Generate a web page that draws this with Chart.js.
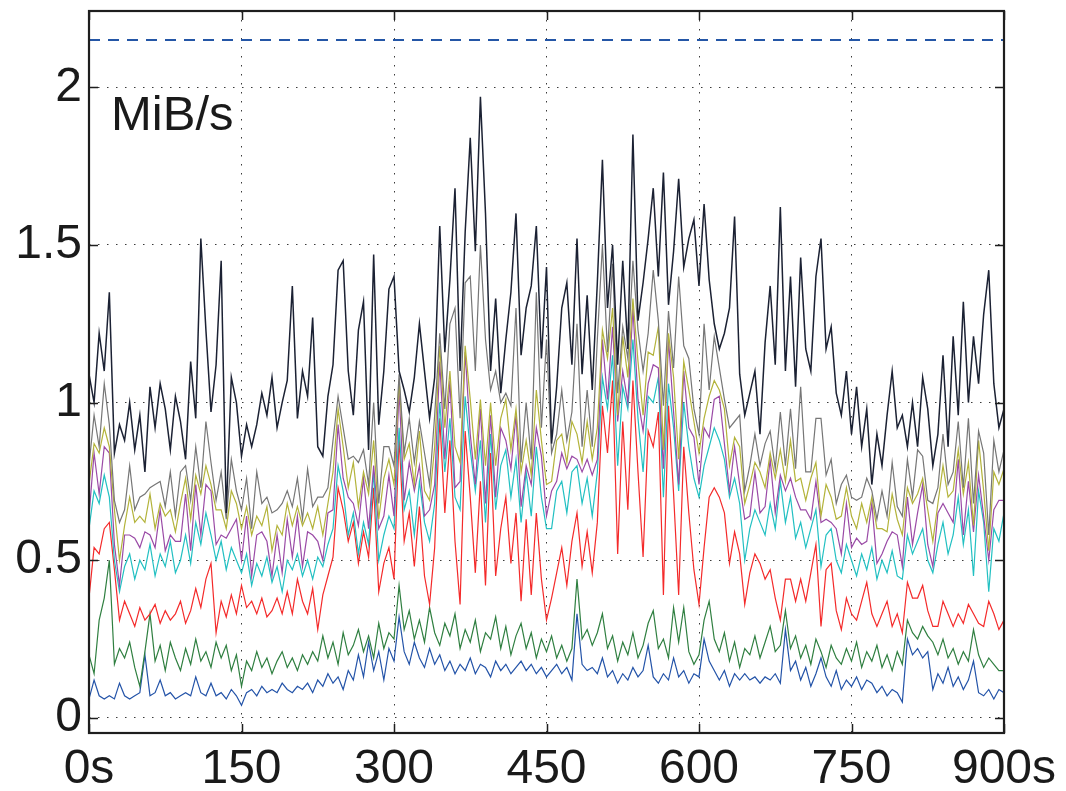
<!DOCTYPE html>
<html>
<head>
<meta charset="utf-8">
<script src="https://cdn.jsdelivr.net/npm/chart.js@4/dist/chart.umd.min.js"></script>
<style>
  html, body { margin: 0; padding: 0; background: #fff; }
  #wrap { width: 1066px; height: 791px; }
</style>
</head>
<body>
<div id="wrap"><canvas id="chart1" width="1066" height="791"></canvas></div>
<script>
"use strict";

// sample times, one every 5 s from 0 to 900 s
var times = [];
for (var t = 0; t <= 900; t += 5) times.push(t);

var xTicks = [0, 150, 300, 450, 600, 750, 900];
var xTickLabels = ['0s', '150', '300', '450', '600', '750', '900s'];
var yTicks = [0, 0.5, 1, 1.5, 2];
var yTickLabels = ['0', '0.5', '1', '1.5', '2'];
var unitLabel = 'MiB/s';
var limitValue = 2.15;

var navy = [
  1.09, 1.00, 1.22, 1.10, 1.35, 0.84, 0.93, 0.88, 1.00, 0.85,
  0.96, 0.78, 1.05, 0.92, 1.06, 0.98, 0.85, 1.02, 0.94, 0.82,
  1.13, 0.95, 1.52, 1.23, 0.97, 1.12, 1.45, 0.65, 1.08, 1.00,
  0.83, 0.93, 0.86, 0.93, 1.03, 0.96, 1.08, 0.92, 1.00, 1.07,
  1.37, 0.95, 1.10, 1.02, 1.27, 0.86, 0.83, 1.02, 1.12, 1.42,
  1.45, 1.10, 0.96, 1.23, 1.32, 0.85, 1.47, 0.93, 1.10, 1.36,
  1.40, 1.10, 1.04, 0.97, 1.08, 1.25, 1.10, 0.95, 1.08, 1.56,
  1.16, 1.39, 1.68, 1.10, 1.54, 1.84, 1.48, 1.97, 1.60, 1.10,
  1.33, 1.03, 1.20, 1.35, 1.60, 1.15, 1.30, 1.37, 1.56, 1.14,
  1.43, 0.87, 1.05, 1.30, 1.38, 1.12, 1.52, 1.09, 1.34, 1.04,
  1.38, 1.77, 1.30, 1.50, 1.12, 1.45, 1.17, 1.85, 1.26, 1.38,
  1.52, 1.68, 1.40, 1.73, 1.31, 1.48, 1.71, 1.43, 1.52, 1.58,
  1.37, 1.63, 1.39, 1.25, 1.17, 1.22, 1.30, 1.59, 1.09, 0.96,
  1.03, 1.10, 0.90, 1.19, 1.37, 1.12, 1.62, 1.10, 1.40, 1.05,
  1.46, 1.17, 1.10, 1.40, 1.52, 1.17, 1.24, 1.03, 0.96, 1.10,
  0.90, 1.05, 0.86, 0.98, 0.74, 0.90, 0.80, 0.96, 1.10, 0.92,
  0.96, 0.86, 1.00, 0.86, 1.08, 0.98, 0.80, 0.90, 1.15, 0.86,
  1.21, 0.96, 1.32, 1.00, 1.21, 1.06, 1.28, 1.42, 1.06, 0.92,
  0.98
];

var gray = [
  0.80, 0.96, 0.86, 1.06, 0.93, 0.69, 0.62, 0.66, 0.80, 0.66,
  0.70, 0.71, 0.73, 0.74, 0.75, 0.67, 0.78, 0.64, 0.78, 0.80,
  0.69, 0.86, 0.73, 0.94, 0.81, 0.69, 0.78, 0.63, 0.82, 0.72,
  0.66, 0.76, 0.60, 0.78, 0.68, 0.70, 0.65, 0.66, 0.68, 0.72,
  0.67, 0.76, 0.63, 0.79, 0.67, 0.70, 0.70, 0.73, 0.88, 1.02,
  0.92, 0.82, 0.83, 0.81, 0.85, 0.74, 1.00, 0.68, 0.86, 0.86,
  0.80, 1.09, 0.84, 0.95, 0.81, 0.94, 0.84, 0.74, 0.96, 1.22,
  0.98, 1.25, 1.30, 0.95, 1.38, 1.40, 1.10, 1.50, 1.20, 1.04,
  1.10, 1.00, 1.03, 0.99, 1.30, 0.81, 1.00, 0.82, 1.35, 0.92,
  1.20, 0.84, 0.90, 1.04, 0.88, 0.97, 1.25, 0.86, 1.04, 0.86,
  1.20, 1.50, 1.16, 1.44, 1.03, 1.24, 1.14, 1.45, 1.23, 1.10,
  1.22, 1.42, 1.26, 0.99, 1.29, 1.11, 1.40, 1.18, 1.14, 0.98,
  0.90, 1.25, 1.04, 1.21, 1.11, 1.01, 0.92, 0.94, 0.96, 0.72,
  0.80, 0.90, 0.80, 0.87, 0.91, 0.79, 0.97, 0.80, 0.98, 0.79,
  1.05, 0.78, 0.78, 0.95, 0.95, 0.77, 0.82, 0.68, 0.74, 0.77,
  0.70, 0.69, 0.70, 0.76, 0.72, 0.63, 0.72, 0.64, 0.81, 0.67,
  0.64, 0.82, 0.70, 0.85, 0.83, 0.69, 0.68, 0.73, 0.90, 0.74,
  0.78, 0.94, 0.73, 0.95, 0.68, 0.91, 0.84, 0.58, 0.88, 0.78,
  0.85
];

var olive = [
  0.74, 0.87, 0.84, 0.92, 0.86, 0.66, 0.50, 0.61, 0.70, 0.62,
  0.64, 0.62, 0.71, 0.60, 0.68, 0.64, 0.66, 0.59, 0.68, 0.76,
  0.63, 0.77, 0.71, 0.80, 0.74, 0.66, 0.66, 0.60, 0.72, 0.68,
  0.60, 0.67, 0.58, 0.64, 0.61, 0.67, 0.53, 0.61, 0.58, 0.68,
  0.61, 0.67, 0.61, 0.65, 0.60, 0.67, 0.58, 0.68, 0.78, 0.98,
  0.86, 0.73, 0.81, 0.67, 0.78, 0.71, 0.88, 0.63, 0.76, 0.82,
  0.74, 1.07, 0.82, 0.87, 0.74, 0.91, 0.72, 0.69, 0.86, 1.18,
  0.92, 1.10, 0.86, 0.81, 1.18, 1.01, 0.82, 1.01, 0.80, 1.00,
  0.80, 0.95, 1.01, 0.85, 0.98, 0.78, 0.88, 0.77, 1.04, 0.88,
  0.74, 0.75, 0.88, 0.90, 0.81, 0.94, 0.90, 0.81, 0.94, 0.82,
  0.92, 1.23, 1.14, 1.30, 0.96, 1.21, 1.08, 1.33, 1.13, 0.96,
  1.16, 1.15, 1.24, 0.85, 1.22, 1.08, 0.82, 1.13, 1.04, 0.94,
  0.84, 0.95, 1.02, 1.07, 1.04, 0.98, 0.80, 0.89, 0.86, 0.68,
  0.74, 0.81, 0.78, 0.73, 0.84, 0.76, 0.85, 0.75, 0.88, 0.75,
  0.76, 0.69, 0.76, 0.81, 0.64, 0.74, 0.70, 0.63, 0.64, 0.73,
  0.64, 0.60, 0.68, 0.62, 0.70, 0.60, 0.60, 0.59, 0.71, 0.63,
  0.58, 0.73, 0.68, 0.71, 0.76, 0.66, 0.56, 0.68, 0.80, 0.70,
  0.72, 0.85, 0.71, 0.81, 0.61, 0.88, 0.72, 0.53, 0.78, 0.74,
  0.79
];

var purple = [
  0.64, 0.84, 0.71, 0.86, 0.84, 0.55, 0.42, 0.58, 0.58, 0.57,
  0.54, 0.59, 0.58, 0.54, 0.66, 0.53, 0.58, 0.56, 0.56, 0.71,
  0.53, 0.74, 0.58, 0.74, 0.72, 0.55, 0.58, 0.57, 0.60, 0.63,
  0.50, 0.64, 0.45, 0.58, 0.59, 0.56, 0.45, 0.58, 0.46, 0.63,
  0.51, 0.64, 0.48, 0.59, 0.58, 0.56, 0.50, 0.65, 0.66, 0.93,
  0.76, 0.70, 0.68, 0.61, 0.76, 0.60, 0.80, 0.60, 0.64, 0.77,
  0.64, 1.04, 0.69, 0.81, 0.72, 0.80, 0.64, 0.66, 0.74, 1.13,
  0.82, 1.07, 0.73, 0.75, 1.16, 0.90, 0.74, 0.98, 0.68, 0.96,
  0.70, 0.92, 0.88, 0.79, 0.96, 0.67, 0.80, 0.74, 0.92, 0.83,
  0.64, 0.72, 0.75, 0.84, 0.79, 0.83, 0.82, 0.78, 0.82, 0.77,
  0.82, 1.20, 1.01, 1.24, 0.94, 1.10, 1.00, 1.30, 1.01, 0.91,
  1.06, 1.12, 1.11, 0.79, 1.20, 0.97, 0.74, 1.10, 0.92, 0.89,
  0.74, 0.92, 0.89, 1.01, 1.02, 0.87, 0.72, 0.86, 0.74, 0.63,
  0.64, 0.78, 0.65, 0.67, 0.82, 0.65, 0.77, 0.72, 0.76, 0.70,
  0.66, 0.66, 0.63, 0.75, 0.62, 0.63, 0.62, 0.60, 0.52, 0.68,
  0.54, 0.57, 0.55, 0.56, 0.68, 0.49, 0.52, 0.56, 0.59, 0.58,
  0.48, 0.70, 0.55, 0.65, 0.74, 0.55, 0.48, 0.65, 0.68, 0.65,
  0.62, 0.82, 0.58, 0.75, 0.59, 0.77, 0.64, 0.50, 0.66, 0.69,
  0.69
];

var cyan = [
  0.60, 0.72, 0.68, 0.77, 0.70, 0.50, 0.40, 0.48, 0.52, 0.44,
  0.50, 0.47, 0.55, 0.45, 0.52, 0.48, 0.56, 0.46, 0.50, 0.58,
  0.49, 0.62, 0.55, 0.65, 0.58, 0.50, 0.56, 0.47, 0.54, 0.50,
  0.46, 0.52, 0.42, 0.49, 0.45, 0.51, 0.43, 0.48, 0.40, 0.50,
  0.47, 0.52, 0.45, 0.50, 0.44, 0.51, 0.48, 0.55, 0.60, 0.80,
  0.72, 0.58, 0.65, 0.52, 0.62, 0.55, 0.78, 0.50, 0.58, 0.64,
  0.60, 0.92, 0.66, 0.72, 0.58, 0.75, 0.62, 0.56, 0.68, 1.00,
  0.78, 0.95, 0.70, 0.66, 1.02, 0.85, 0.72, 0.88, 0.62, 0.90,
  0.66, 0.80, 0.85, 0.70, 0.82, 0.62, 0.78, 0.64, 0.86, 0.70,
  0.60, 0.60, 0.72, 0.75, 0.65, 0.78, 0.80, 0.68, 0.76, 0.64,
  0.78, 1.08, 0.98, 1.15, 0.80, 1.05, 0.98, 1.20, 0.95, 0.78,
  1.02, 1.00, 1.08, 0.70, 1.06, 0.92, 0.72, 1.00, 0.86, 0.76,
  0.70, 0.80, 0.86, 0.92, 0.88, 0.82, 0.70, 0.76, 0.68, 0.50,
  0.60, 0.66, 0.62, 0.58, 0.68, 0.60, 0.75, 0.62, 0.70, 0.57,
  0.62, 0.54, 0.60, 0.66, 0.48, 0.58, 0.60, 0.50, 0.46, 0.55,
  0.50, 0.45, 0.52, 0.47, 0.54, 0.44, 0.50, 0.46, 0.53, 0.45,
  0.44, 0.58, 0.52, 0.56, 0.60, 0.50, 0.46, 0.55, 0.62, 0.52,
  0.58, 0.70, 0.55, 0.66, 0.45, 0.72, 0.62, 0.40, 0.60, 0.56,
  0.65
];

var red = [
  0.38, 0.54, 0.52, 0.60, 0.62, 0.47, 0.31, 0.37, 0.33, 0.29,
  0.35, 0.31, 0.33, 0.36, 0.30, 0.34, 0.31, 0.33, 0.37, 0.30,
  0.34, 0.41, 0.35, 0.44, 0.49, 0.27, 0.37, 0.32, 0.39, 0.33,
  0.42, 0.35, 0.37, 0.33, 0.38, 0.32, 0.34, 0.38, 0.33, 0.40,
  0.33, 0.44, 0.37, 0.33, 0.41, 0.28, 0.39, 0.45, 0.51, 0.73,
  0.66, 0.56, 0.62, 0.49, 0.59, 0.51, 0.73, 0.40, 0.49, 0.54,
  0.44, 0.89, 0.56, 0.65, 0.48, 0.67, 0.45, 0.36, 0.54, 0.95,
  0.65, 0.88, 0.56, 0.36, 0.91, 0.70, 0.46, 0.75, 0.42, 0.84,
  0.45, 0.60, 0.70, 0.49, 0.65, 0.37, 0.63, 0.39, 0.65, 0.44,
  0.31, 0.38, 0.46, 0.54, 0.42, 0.56, 0.65, 0.48, 0.59, 0.46,
  0.62, 0.99, 0.84, 1.07, 0.52, 0.94, 0.66, 1.07, 0.78, 0.51,
  0.91, 0.86, 0.97, 0.39, 0.99, 0.71, 0.39, 0.86, 0.65, 0.47,
  0.36, 0.54, 0.70, 0.73, 0.70, 0.65, 0.49, 0.59, 0.52, 0.36,
  0.46, 0.52, 0.49, 0.44, 0.47, 0.38, 0.31, 0.44, 0.44, 0.37,
  0.44, 0.37, 0.46, 0.55, 0.29, 0.47, 0.49, 0.34, 0.28, 0.38,
  0.33, 0.31, 0.37, 0.43, 0.33, 0.29, 0.33, 0.37, 0.29, 0.33,
  0.27, 0.43, 0.38, 0.38, 0.42, 0.34, 0.29, 0.29, 0.37, 0.33,
  0.29, 0.33, 0.30, 0.36, 0.33, 0.30, 0.29, 0.37, 0.33, 0.28,
  0.31
];

var green = [
  0.20, 0.14, 0.31, 0.38, 0.50, 0.17, 0.22, 0.19, 0.24, 0.16,
  0.10, 0.21, 0.33, 0.18, 0.23, 0.15, 0.24, 0.19, 0.15, 0.22,
  0.17, 0.25, 0.18, 0.21, 0.16, 0.24, 0.19, 0.23, 0.15, 0.20,
  0.10, 0.18, 0.15, 0.21, 0.16, 0.19, 0.14, 0.18, 0.21, 0.16,
  0.19, 0.15, 0.20, 0.17, 0.21, 0.18, 0.26, 0.19, 0.24, 0.17,
  0.27, 0.20, 0.23, 0.28, 0.21, 0.26, 0.19, 0.30, 0.22, 0.27,
  0.25, 0.42, 0.28, 0.34, 0.25, 0.31, 0.24, 0.35, 0.27, 0.23,
  0.30, 0.26, 0.33, 0.22, 0.28, 0.24, 0.31, 0.21, 0.27, 0.25,
  0.32, 0.22, 0.29, 0.20, 0.26, 0.30, 0.22, 0.27, 0.19, 0.25,
  0.21, 0.26, 0.19, 0.23, 0.18, 0.22, 0.44, 0.25, 0.28, 0.23,
  0.27, 0.33, 0.22, 0.26, 0.18, 0.24, 0.20, 0.27, 0.19, 0.23,
  0.30, 0.34, 0.22, 0.25, 0.19, 0.35, 0.24, 0.35, 0.21, 0.17,
  0.20, 0.31, 0.37, 0.25, 0.21, 0.27, 0.18, 0.24, 0.16, 0.22,
  0.20, 0.26, 0.19, 0.24, 0.29, 0.21, 0.23, 0.34, 0.22, 0.26,
  0.19, 0.23, 0.17, 0.25, 0.21, 0.16, 0.23, 0.19, 0.17, 0.22,
  0.18, 0.24, 0.16, 0.21, 0.18, 0.23, 0.16, 0.20, 0.15, 0.21,
  0.17, 0.31, 0.27, 0.25, 0.29, 0.26, 0.24, 0.20, 0.25, 0.19,
  0.22, 0.17, 0.21, 0.18, 0.28, 0.20, 0.16, 0.19, 0.17, 0.15,
  0.15
];

var blue = [
  0.06, 0.12, 0.07, 0.06, 0.07, 0.06, 0.11, 0.07, 0.06, 0.07,
  0.08, 0.20, 0.07, 0.08, 0.12, 0.07, 0.08, 0.06, 0.07, 0.08,
  0.07, 0.13, 0.08, 0.07, 0.11, 0.07, 0.08, 0.06, 0.09, 0.07,
  0.04, 0.08, 0.09, 0.07, 0.10, 0.08, 0.09, 0.08, 0.11, 0.09,
  0.08, 0.10, 0.09, 0.11, 0.08, 0.12, 0.10, 0.14, 0.11, 0.13,
  0.09, 0.15, 0.12, 0.20, 0.13, 0.24, 0.15, 0.21, 0.12, 0.22,
  0.18, 0.32, 0.21, 0.17, 0.24, 0.19, 0.16, 0.22, 0.17, 0.20,
  0.15, 0.18, 0.14, 0.17, 0.15, 0.19, 0.14, 0.17, 0.16, 0.13,
  0.18, 0.15, 0.17, 0.14, 0.16, 0.18, 0.15, 0.17, 0.14, 0.16,
  0.13, 0.15, 0.17, 0.14, 0.16, 0.12, 0.33, 0.17, 0.15, 0.16,
  0.14, 0.19, 0.13, 0.15, 0.11, 0.14, 0.12, 0.16, 0.13, 0.15,
  0.23, 0.13, 0.11, 0.14, 0.12, 0.19, 0.13, 0.15, 0.11, 0.14,
  0.13, 0.25, 0.18, 0.15, 0.12, 0.15, 0.10, 0.14, 0.12, 0.14,
  0.12, 0.13, 0.11, 0.13, 0.12, 0.14, 0.11, 0.28, 0.15, 0.18,
  0.12, 0.16, 0.10, 0.14, 0.19, 0.13, 0.10, 0.15, 0.09, 0.12,
  0.10, 0.13, 0.09, 0.12, 0.11, 0.08, 0.10, 0.07, 0.09, 0.08,
  0.05, 0.25, 0.20, 0.22, 0.19, 0.21, 0.09, 0.14, 0.11, 0.16,
  0.10, 0.13, 0.09, 0.12, 0.18, 0.08, 0.07, 0.09, 0.06, 0.09,
  0.08
];

var FONT = '"Liberation Sans", Arial, Helvetica, sans-serif';

// frame, inward ticks and the unit label, drawn MATLAB style
var framePlugin = {
  id: 'frame',
  afterDraw: function (chart) {
    var a = chart.chartArea;
    var ctx = chart.ctx;
    var xs = chart.scales.x, ys = chart.scales.y;
    var tl = 9;
    ctx.save();
    ctx.strokeStyle = '#1e1e1e';
    ctx.lineWidth = 1.5;
    xTicks.forEach(function (v) {
      var px = Math.round(xs.getPixelForValue(v)) + 0.5;
      ctx.beginPath();
      ctx.moveTo(px, a.bottom); ctx.lineTo(px, a.bottom - tl);
      ctx.moveTo(px, a.top); ctx.lineTo(px, a.top + tl);
      ctx.stroke();
    });
    yTicks.forEach(function (v) {
      var py = Math.round(ys.getPixelForValue(v)) + 0.5;
      ctx.beginPath();
      ctx.moveTo(a.left, py); ctx.lineTo(a.left + tl, py);
      ctx.moveTo(a.right, py); ctx.lineTo(a.right - tl, py);
      ctx.stroke();
    });
    ctx.lineWidth = 2.2;
    ctx.strokeRect(a.left, a.top, a.right - a.left, a.bottom - a.top);
    ctx.fillStyle = '#1a1a1a';
    ctx.font = '49px ' + FONT;
    ctx.textBaseline = 'alphabetic';
    ctx.textAlign = 'left';
    ctx.fillText(unitLabel, a.left + 22, 130);
    ctx.restore();
  }
};

function line(data, color, width) {
  return {
    data: data,
    borderColor: color,
    backgroundColor: color,
    borderWidth: width,
    pointRadius: 0,
    tension: 0,
    fill: false
  };
}

var limitLine = line([{ x: 0, y: limitValue }, { x: 900, y: limitValue }], '#2456a6', 2);
limitLine.borderDash = [11, 8];

function noPad(s) {
  s.paddingTop = 0;
  s.paddingBottom = 0;
  s.paddingLeft = 0;
  s.paddingRight = 0;
}

var ctx = document.getElementById('chart1').getContext('2d');
new Chart(ctx, {
  type: 'line',
  data: {
    labels: times,
    datasets: [
      line(navy, '#1b2133', 1.5),
      line(gray, '#767676', 1.2),
      line(olive, '#b3b33a', 1.2),
      line(purple, '#9a4aa6', 1.2),
      line(cyan, '#22c0c2', 1.2),
      line(red, '#f42a2a', 1.2),
      line(green, '#2f7f40', 1.2),
      line(blue, '#2353a8', 1.2),
      limitLine
    ]
  },
  options: {
    responsive: false,
    animation: false,
    events: [],
    layout: {
      padding: { top: 11, right: 62, left: 0, bottom: 0 }
    },
    plugins: {
      legend: { display: false },
      tooltip: { enabled: false }
    },
    scales: {
      x: {
        type: 'linear',
        min: 0,
        max: 900,
        afterFit: function (s) { s.height = 58; noPad(s); },
        afterBuildTicks: function (s) {
          s.ticks = xTicks.map(function (v) { return { value: v }; });
        },
        ticks: {
          padding: 8,
          maxRotation: 0,
          autoSkip: false,
          color: '#1a1a1a',
          font: { family: FONT, size: 48 },
          callback: function (v) { return xTickLabels[xTicks.indexOf(v)]; }
        },
        grid: { color: '#3a3a3a', lineWidth: 1, drawTicks: false },
        border: { display: false, dash: [1.5, 7.5] }
      },
      y: {
        min: -0.048,
        max: 2.242,
        afterFit: function (s) { s.width = 89; noPad(s); },
        afterBuildTicks: function (s) {
          s.ticks = yTicks.map(function (v) { return { value: v }; });
        },
        ticks: {
          padding: 7,
          color: '#1a1a1a',
          font: { family: FONT, size: 48 },
          callback: function (v) { return yTickLabels[yTicks.indexOf(v)]; }
        },
        grid: { color: '#3a3a3a', lineWidth: 1, drawTicks: false },
        border: { display: false, dash: [1.5, 7.5] }
      }
    }
  },
  plugins: [framePlugin]
});
</script>
</body>
</html>
